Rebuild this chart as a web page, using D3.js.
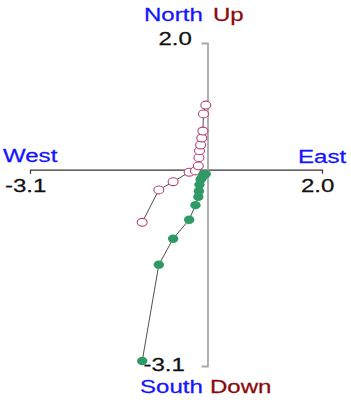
<!DOCTYPE html>
<html>
<head>
<meta charset="utf-8">
<script src="https://cdn.jsdelivr.net/npm/d3@7"></script>
<style>
  html, body { margin: 0; padding: 0; background: #fff; }
  svg { display: block; }
  text { font-family: "Liberation Sans", Arial, sans-serif; }
</style>
</head>
<body>
<svg id="chart" width="351" height="402"></svg>
<script>
// Demagnetization steps (shared East component)
const east  = [-1.14, -0.85, -0.60, -0.32, -0.21, -0.16, -0.15, -0.14, -0.12, -0.10, -0.08, -0.07, -0.03];
// Horizontal projection (North vs East) - filled symbols
const north = [-3.02, -1.50, -1.09, -0.79, -0.56, -0.43, -0.34, -0.24, -0.16, -0.13, -0.10, -0.07, -0.07];
// Vertical projection (Up vs East) - open symbols
const up    = [-0.83, -0.32, -0.19, -0.04, -0.02, 0.06, 0.19, 0.30, 0.39, 0.50, 0.61, 0.88, 1.02];

const xDomain = [-3.1, 2.0];
const yDomain = [-3.1, 2.0];
const xTickLabels = ["-3.1", "2.0"];
const yTickLabels = ["-3.1", "2.0"];

const svg = d3.select("#chart");
const x = d3.scaleLinear().domain(xDomain).range([30, 322]);
const y = d3.scaleLinear().domain(yDomain).range([366, 43]);

const FS = 18.5, SX = 1.3;
function label(txt, px, py, color, anchor) {
  const g = svg.append("g").attr("transform", `translate(${px},${py}) scale(${SX},1)`);
  g.append("text").text(txt)
    .attr("font-size", FS).attr("fill", color)
    .attr("stroke", color).attr("stroke-width", 0.25)
    .attr("text-anchor", anchor || "start");
}

// Axes
const gx = svg.append("g").attr("transform", `translate(0,${y(0)})`)
  .call(d3.axisBottom(x).tickValues([]).tickSizeOuter(4));
gx.select(".domain").attr("stroke", "#333").attr("stroke-width", 1.2);

const gy = svg.append("g").attr("transform", `translate(${x(0)},0)`)
  .call(d3.axisLeft(y).tickValues([]).tickSizeOuter(6));
gy.select(".domain").attr("stroke", "#a8a8a8").attr("stroke-width", 1.8);

// Tick labels
label(xTickLabels[0], x(xDomain[0]) - 25, y(0) + 22, "#111");
label(xTickLabels[1], x(xDomain[1]) - 21, y(0) + 22, "#111");
label(yTickLabels[1], x(0) - 49, y(yDomain[1]) + 2, "#111");
label(yTickLabels[0], x(0) - 64, y(yDomain[0]) + 5, "#111");

// Direction labels
const blue = "#1414ff", red = "#8b0a0a";
label("North", 144, 21, blue);
label("Up", 213, 21, red);
label("West", 3, 162, blue);
label("East", 298, 163, blue);
label("South", 140, 393, blue);
label("Down", 210, 393, red);

// Lines
const hData = east.map((e, i) => [e, north[i]]);
const vData = east.map((e, i) => [e, up[i]]);
const line = d3.line().x(d => x(d[0])).y(d => y(d[1]));
svg.append("path").datum(vData).attr("d", line)
  .attr("fill", "none").attr("stroke", "#222").attr("stroke-width", 0.8);
svg.append("path").datum(hData).attr("d", line)
  .attr("fill", "none").attr("stroke", "#222").attr("stroke-width", 0.8);

// Open symbols (vertical projection)
svg.append("g").selectAll("ellipse").data(vData).join("ellipse")
  .attr("cx", d => x(d[0])).attr("cy", d => y(d[1]))
  .attr("rx", 5).attr("ry", 3.9)
  .attr("fill", "#fff").attr("stroke", "#b4457a").attr("stroke-width", 1.1);

// Filled symbols (horizontal projection)
svg.append("g").selectAll("ellipse").data(hData).join("ellipse")
  .attr("cx", d => x(d[0])).attr("cy", d => y(d[1]))
  .attr("rx", 5.2).attr("ry", 4.2)
  .attr("fill", "#2f9a66");
</script>
</body>
</html>
